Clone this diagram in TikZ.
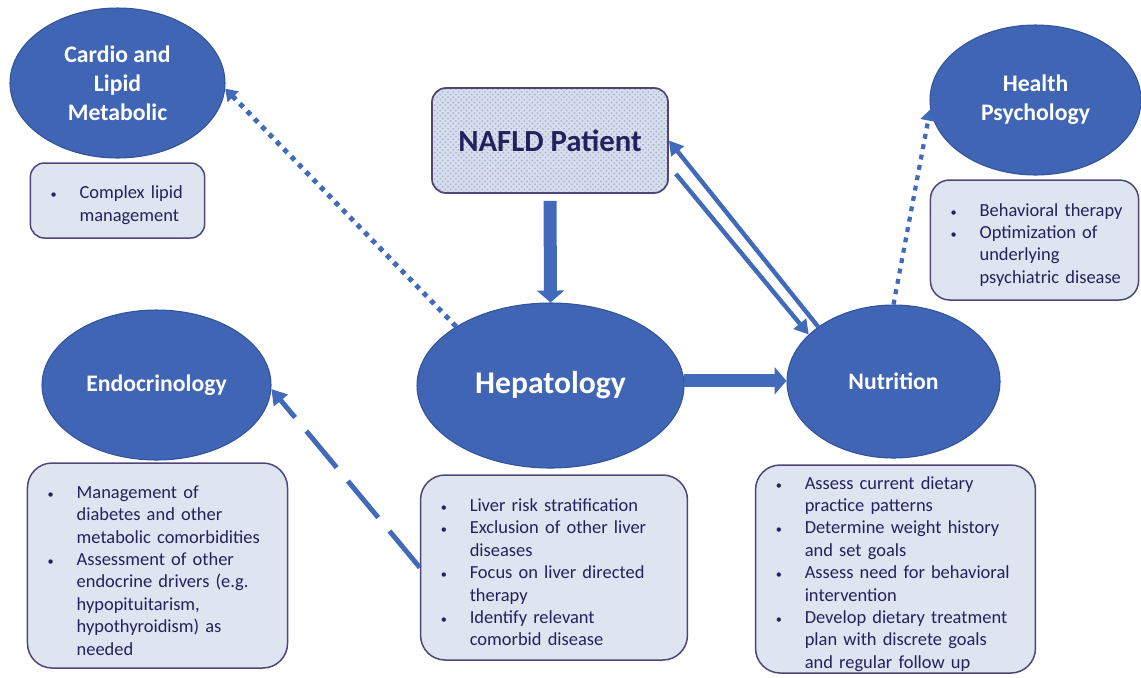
\documentclass[tikz,border=0pt]{standalone}
\usepackage{fontspec}
\setmainfont{Carlito}
\usetikzlibrary{arrows.meta,patterns,shapes.geometric}

\definecolor{ellblue}{RGB}{64,101,180}
\definecolor{ellline}{RGB}{50,82,155}
\definecolor{arrblue}{RGB}{66,106,186}
\definecolor{boxfill}{RGB}{222,229,241}
\definecolor{boxline}{RGB}{78,70,118}
\definecolor{boxtext}{RGB}{34,34,92}
\definecolor{naflfill}{RGB}{214,222,238}
\definecolor{dotgrey}{RGB}{160,172,198}

\newcommand{\pxl}{0.02cm}
\newcommand{\smallbullet}{{\fontsize{7}{7}\selectfont\textbullet}}
\newcommand{\tasklist}[1]{%
  \begin{list}{\smallbullet}{\setlength{\leftmargin}{28pt}\setlength{\labelsep}{13pt}%
    \setlength{\labelwidth}{15pt}\setlength{\itemsep}{0pt}\setlength{\parsep}{0pt}%
    \setlength{\topsep}{0pt}\setlength{\partopsep}{0pt}\setlength{\rightmargin}{-20pt}}#1\end{list}}

\begin{document}
\begin{tikzpicture}[x=0.02cm,y=-0.02cm,
  unit/.style={ellipse,draw=ellline,line width=0.6pt,fill=ellblue,text=white,inner sep=0pt,
    font=\fontsize{13.5}{16.5}\selectfont\bfseries,align=center},
  notebox/.style={draw=boxline,line width=0.85pt,fill=boxfill,rounded corners=14pt,text=boxtext,
    inner xsep=0pt,inner ysep=0pt,text width=#1,font=\fontsize{10.5}{12.75}\selectfont},
  fat/.style={draw=arrblue,line width=7.4pt,-{Triangle[width=15.3pt,length=6.8pt]}},
  twin/.style={draw=arrblue,line width=2.5pt,-{Triangle[width=9pt,length=8pt]}},
  dots/.style={draw=arrblue,line width=2.8pt,dash pattern=on 2.8pt off 3.2pt,-{Triangle[width=8.5pt,length=6.5pt]}},
  longdash/.style={draw=arrblue,line width=2.8pt,dash pattern=on 27pt off 10pt,-{Triangle[width=10pt,length=8.5pt]}}]
\useasboundingbox (0,0) rectangle (1141,677);

\node[unit,minimum width=215*\pxl,minimum height=150*\pxl] (cardio) at (117.5,83) {Cardio and\\Lipid\\Metabolic};
\node[unit,minimum width=211*\pxl,minimum height=150*\pxl] (health) at (1035.5,100) {Health\\Psychology};
\node[unit,minimum width=229*\pxl,minimum height=150*\pxl] (endo) at (156.5,385) {Endocrinology};
\node[unit,minimum width=267*\pxl,minimum height=165*\pxl,font=\fontsize{18}{21}\selectfont\bfseries] (hep) at (550.5,385.5) {Hepatology};
\node[unit,minimum width=213*\pxl,minimum height=153*\pxl] (nut) at (893.5,381.5) {Nutrition};

\node[draw=boxline,line width=1pt,rounded corners=8pt,preaction={fill=naflfill},pattern=crosshatch dots,
  pattern color=dotgrey,minimum width=236*\pxl,minimum height=105*\pxl,text=boxtext,
  font=\fontsize{17.5}{20}\selectfont\bfseries] (nafld) at (550,140.5) {NAFLD Patient};

\node[notebox=99.2pt,minimum height=75*\pxl,rounded corners=8pt] (cardiobox) at (117.5,200.5)
  {\tasklist{\item Complex lipid\\ management}};
\node[notebox=118.5pt,minimum height=120*\pxl,rounded corners=11pt] (healthbox) at (1034.5,240)
  {\tasklist{\item Behavioral therapy
   \item Optimization of\\ underlying\\ psychiatric disease}};
\node[notebox=148pt,minimum height=205*\pxl] (endobox) at (157.5,565.5)
  {\tasklist{\item Management of\\ diabetes and other\\ metabolic comorbidities
   \item Assessment of other\\ endocrine drivers (e.g.\\ hypopituitarism,\\ hypothyroidism) as\\ needed}};
\node[notebox=151.9pt,minimum height=185*\pxl] (hepbox) at (554,567.5)
  {\tasklist{\item Liver risk stratification
   \item Exclusion of other liver\\ diseases
   \item Focus on liver directed\\ therapy
   \item Identify relevant\\ comorbid disease}};
\node[notebox=159.3pt,minimum height=208*\pxl] (nutbox) at (895.5,569)
  {\tasklist{\item Assess current dietary\\ practice patterns
   \item Determine weight history\\ and set goals
   \item Assess need for behavioral\\ intervention
   \item Develop dietary treatment\\ plan with discrete goals\\ and regular follow up}};

\coordinate (nfout) at ([shift={(7,-20)}]nafld.south east);

\draw[fat,shorten <=4pt] (nafld.south) -- (hep.north);
\draw[fat] (hep.2) -- (hep.2 -| nut.west);
\draw[twin] (nut.144) -- (nafld.east);
\draw[twin] (nfout) -- (nut.151);
\draw[dots] (hep.148) -- (cardio.-3);
\draw[dots,line width=2.4pt] (nut.north) -- (health.185);
\draw[longdash] (hepbox.west) -- (endo.-2);
\end{tikzpicture}
\end{document}
